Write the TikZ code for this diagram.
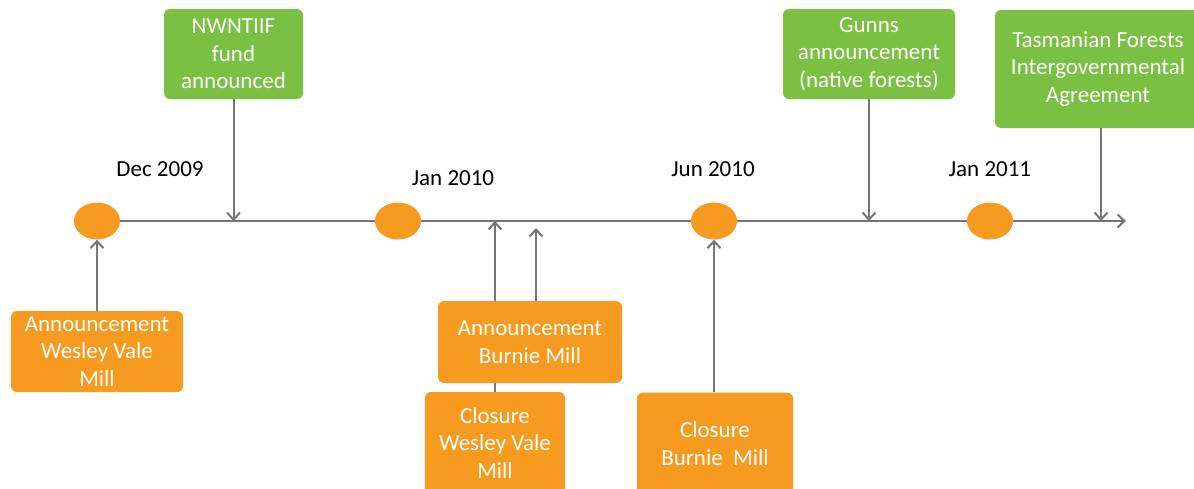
\documentclass[tikz,border=0pt]{standalone}
\usepackage{fontspec}
\setmainfont{Carlito}
\usepackage{xcolor}
\usepackage{tikz}
\usetikzlibrary{arrows.meta,shapes.geometric}

\definecolor{evorange}{RGB}{247,154,32}
\definecolor{evgreen}{RGB}{122,193,67}
\definecolor{axisgray}{RGB}{118,118,122}

\tikzset{
  every node/.style={font=\fontsize{23}{27.5}\selectfont},
  event/.style={ellipse, fill=evorange, minimum width=46pt, minimum height=37pt, inner sep=0pt},
  obox/.style={fill=evorange, text=white, rounded corners=6pt, align=center, inner sep=0pt},
  gbox/.style={fill=evgreen, text=white, rounded corners=6pt, align=center, inner sep=0pt},
  link/.style={draw=axisgray, line width=2pt, -{Straight Barb[length=7pt,width=13pt]}},
}

\begin{document}
\begin{tikzpicture}[x=1pt,y=-1pt]
\useasboundingbox (0,0) rectangle (1194,488);
\clip (0,0) rectangle (1194,488);

% Draw the time line
\node[event] (e1) at (97,221) {};
\coordinate (tend) at (1126,221);
\draw[link] (e1.east) -- (tend);
\foreach \n/\x in {e2/398,e3/714,e4/990} {
    \node[event] (\n) at (\x,221) {};
}

% Draw dates
\node (d1) at (160,169) {Dec 2009};
\node (d2) at (453,178) {Jan 2010};
\node (d3) at (713,169) {Jun 2010};
\node (d4) at (990,169) {Jan 2011};

% Green events above the line
\node[gbox, minimum width=139pt, minimum height=90pt] (nw) at (233.5,54) {NWNTIIF\\fund\\announced};
\node[gbox, minimum width=172pt, minimum height=90pt] (gunns) at (869,54) {Gunns\\announcement\\(native forests)};
\node[gbox, minimum width=206pt, minimum height=118pt] (tfia) at (1098,69) {Tasmanian Forests\\Intergovernmental\\Agreement};
\coordinate (a1) at (233.5,221);
\coordinate (a2) at (869,221);
\coordinate (a3) at (1101,221);
\draw[link] (nw.south) -- (a1);
\draw[link] (gunns.south) -- (a2);
\draw[link] (tfia.south -| a3) -- (a3);

% Orange events below the line
\node[obox, minimum width=140pt, minimum height=102pt] (cwv) at (495,443) {Closure\\Wesley Vale\\Mill};
\coordinate (b1) at (495,221);
\draw[link] (cwv.north) -- (b1);
\node[obox, minimum width=172pt, minimum height=81pt] (awv) at (97,351.5) {Announcement\\Wesley Vale\\Mill};
\node[obox, minimum width=184pt, minimum height=82pt] (ab) at (530,342) {Announcement\\Burnie Mill};
\node[obox, minimum width=156pt, minimum height=102pt] (cb) at (715,443.5) {Closure\\Burnie~~Mill};
\coordinate (b2) at (536,228);
\draw[link] (awv.north) -- (e1.south);
\draw[link] (ab.north -| b2) -- (b2);
\draw[link] (cb.north -| e3.south) -- (e3.south);
\end{tikzpicture}
\end{document}
